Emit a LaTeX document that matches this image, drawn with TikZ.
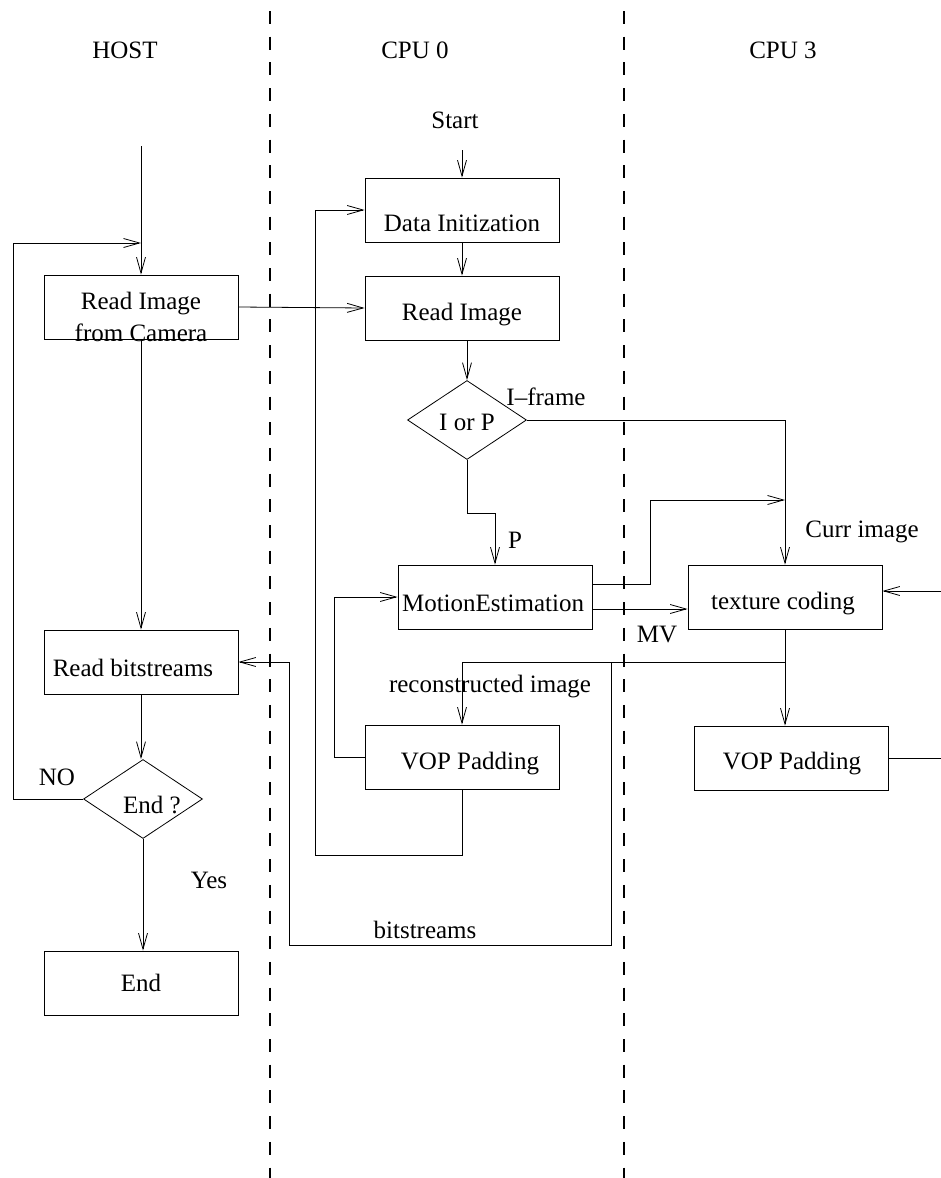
\documentclass[tikz,border=0pt]{standalone}
\usepackage{fontspec}
\setmainfont{Liberation Serif}
\usetikzlibrary{arrows.meta,shapes.geometric}
\begin{document}
\begin{tikzpicture}[x=1pt,y=-1pt,
  every node/.style={font=\fontsize{25}{32}\selectfont},
  line/.style={line width=0.8pt},
  arr/.style={line, -{Straight Barb[length=16pt,width=9pt,line width=0.8pt]}},
  lane/.style={line width=2.6pt, dash pattern=on 13pt off 12.7pt, dash phase=14.7pt},
  box/.style={draw, line width=0.8pt, minimum width=194pt, minimum height=64pt, inner sep=0pt},
  dec/.style={draw, line width=0.8pt, diamond, minimum width=119pt, minimum height=79pt, inner sep=0pt},
  txt/.style={inner sep=0pt},
  % caption set inside a box, moved by (dx,dy) from its centre
  cap/.style n args={3}{label={[txt, xshift=#1pt, yshift=-#2pt]center:#3}}]
\useasboundingbox (0,0) rectangle (941,1178);

% swim-lane separators
\draw[lane] (270,0) -- (270,1178);
\draw[lane] (624,0) -- (624,1178);

% lane titles
\node[txt] (thost) at (125,50) {HOST};
\node[txt] (tcpu0) at (415,50) {CPU 0};
\node[txt] (tcpu3) at (783,50) {CPU 3};

% HOST column
\node[box] (cam) at (141,307) {};
\node[txt, align=center] (camtxt) at (141,317) {Read Image\\from Camera};
\node[box, cap={-8}{6}{Read bitstreams}] (rbs) at (141,662) {};
\node[dec, cap={9}{6}{End ?}] (endq) at (143,799) {};
\node[box, cap={0}{0}{End}] (endbox) at (141,983) {};

% CPU 0 column
\node[txt] (start) at (455,120) {Start};
\node[box, cap={0}{13}{Data Initization}] (init) at (462,210) {};
\node[box, cap={0}{7}{Read Image}] (rd0) at (462,308) {};
\node[dec, cap={0}{2}{I or P}] (iorp) at (467,420) {};
\node[box, cap={-2}{6}{MotionEstimation}] (me) at (495,597) {};
\node[box, cap={8}{7}{VOP Padding}] (vop0) at (462,757) {};

% CPU 3 column
\node[box, cap={-2}{7}{texture coding}] (tc) at (785,597) {};
\node[box, cap={1}{6}{VOP Padding}] (vop3) at (791,758) {};

% labels on connectors
\node[txt] (lif) at (546,397) {I--frame};
\node[txt] (lp) at (515,540) {P};
\node[txt] (lmv) at (657,634) {MV};
\node[txt] (lcurr) at (862,532) {Curr image};
\node[txt] (lrec) at (490,687) {reconstructed image};
\node[txt] (lbits) at (425,930) {bitstreams};
\node[txt] (lno) at (57,777) {NO};
\node[txt] (lyes) at (209,880) {Yes};

% free ends and bends
\coordinate (hostin) at (141,146);
\coordinate (loopin) at (141,243);
\coordinate (loopx) at (13,243);
\coordinate (startin) at (462,150);
\coordinate (pbend) at (467,513);
\coordinate (curr) at (785,500);
\coordinate (rin) at (941,591);
\coordinate (rout) at (941,758);
\coordinate (rj) at (785,662);
\coordinate (b1) at (611,662);
\coordinate (b2) at (289,945);
\coordinate (pl) at (334,757);
\coordinate (lb) at (315,855);

% HOST flow
\draw[arr] (hostin) -- (cam.north);
\draw[arr] (cam.south) -- (rbs.north);
\draw[arr] (rbs.south) -- (endq.north -| rbs.south);
\draw[arr] (endq.south) -- (endbox.north -| endq.south);
\draw[arr] (endq.west) -| (loopx) -- (loopin);
\draw[arr] (cam.east) -- (rd0.west);

% CPU 0 flow
\draw[arr] (startin) -- (init.north);
\draw[arr] (init.south) -- (rd0.north);
\draw[arr] (iorp.north |- rd0.south) -- (iorp.north);
\draw[arr] (iorp.south) -- (pbend) -| (me.north);
\draw[arr] (iorp.east) -| (tc.north);
\draw[arr] ([yshift=13pt]me.east) -- ++(58,0) |- (curr);
\draw[arr] ([yshift=-12pt]me.east) -- ([yshift=-12pt]tc.west);
\draw[arr] (vop0.west) -- (pl) |- (me.west);
\draw[arr] (vop0.south) |- (lb) |- (init.west);

% CPU 3 flow
\draw[arr] (rin) -- (tc.east |- rin);
\draw[arr] (tc.south) -- (tc.south |- vop3.north);
\draw[arr] (rj) -| (vop0.north);
\draw[arr] (b1) |- (b2) |- (rbs.east);
\draw[line] (vop3.east |- rout) -- (rout);
\end{tikzpicture}
\end{document}
